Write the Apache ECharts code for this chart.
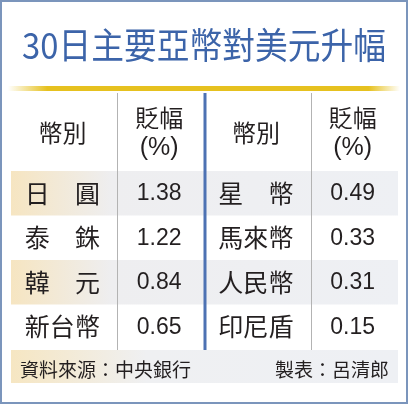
<!DOCTYPE html>
<html><head><meta charset="utf-8">
<script src="https://cdn.jsdelivr.net/npm/echarts@6/dist/echarts.min.js"></script>
<style>html,body{margin:0;padding:0;background:#fff}#c{width:408px;height:404px}</style>
</head><body><div id="c"></div>
<script>
const titleText = '30日主要亞幣對美元升幅';
const headers = ['幣別', '貶幅\n(%)', '幣別', '貶幅\n(%)'];
const leftNames = ['日　圓', '泰　銖', '韓　元', '新台幣'];
const leftValues = [1.38, 1.22, 0.84, 0.65];
const rightNames = ['星　幣', '馬來幣', '人民幣', '印尼盾'];
const rightValues = [0.49, 0.33, 0.31, 0.15];
const shadedRows = [0, 2];
const sourceText = '資料來源：中央銀行';
const authorText = '製表：呂清郎';

const CJK = '"Noto Sans CJK TC","Noto Sans CJK SC",sans-serif';
const NUM = '"Liberation Sans",Arial,sans-serif';
const TXT = '#231f20';

const cells = [];
leftNames.forEach((n, i) => {
  cells.push([0, i, n, 'name']);
  cells.push([1, i, leftValues[i].toFixed(2), 'num']);
  cells.push([2, i, rightNames[i], 'name']);
  cells.push([3, i, rightValues[i].toFixed(2), 'num']);
});

const chart = echarts.init(document.getElementById('c'), null, {renderer: 'canvas'});
chart.setOption({
  backgroundColor: '#fff',
  animation: false,
  title: [
    {text: sourceText, left: 20, top: 360, padding: 0,
     textStyle: {fontSize: 19, lineHeight: 19, fontWeight: 'normal', color: TXT, fontFamily: CJK}},
    {text: authorText, right: 19, top: 360, padding: 0,
     textStyle: {fontSize: 19, lineHeight: 19, fontWeight: 'normal', color: TXT, fontFamily: CJK}}
  ],
  grid: {left: 14, right: 7, top: 171, bottom: 55},
  xAxis: {
    type: 'category', position: 'top', data: headers.map((h, i) => String(i)),
    axisLine: {show: false}, axisTick: {show: false}, splitLine: {show: false},
    axisLabel: {
      margin: 38, verticalAlign: 'middle', interval: 0,
      formatter: (v, i) => {
        const parts = headers[i].split('\n');
        return parts.map((p, k) => k === 0 ? '{h|' + p + '}' : '{p|' + p + '}').join('\n');
      },
      rich: {
        h: {fontSize: 24, lineHeight: 31, fontFamily: CJK, color: TXT},
        p: {fontSize: 25, lineHeight: 31, fontFamily: NUM, color: TXT}
      }
    }
  },
  yAxis: {type: 'category', inverse: true, show: false, data: leftNames.map((n, i) => String(i))},
  series: [
    {
      type: 'custom', z: 1, silent: true,
      data: shadedRows.map(r => [0, r]),
      encode: {x: 0, y: 1},
      renderItem: (params, api) => {
        const p = api.coord([api.value(0), api.value(1)]);
        const s = api.size([1, 1]);
        return {
          type: 'rect',
          shape: {x: p[0] - s[0] / 2 - 3, y: p[1] - s[1] / 2, width: s[0] * 4, height: s[1]},
          style: {fill: {type: 'linear', x: 0, y: 0, x2: 1, y2: 0, colorStops: [
            {offset: 0, color: '#f6e5c1'}, {offset: 0.26, color: '#eeeef0'}, {offset: 1, color: '#eef0f4'}]}}
        };
      }
    },
    {
      type: 'custom', z: 3, silent: true,
      data: cells,
      encode: {x: 0, y: 1},
      renderItem: (params, api) => {
        const c = cells[params.dataIndex];
        const p = api.coord([api.value(0), api.value(1)]);
        const isName = c[3] === 'name';
        return {
          type: 'text', x: p[0], y: p[1] + (isName ? 0 : 0.5),
          style: {text: c[2], fontSize: isName ? 25 : 23, fontFamily: isName ? CJK : NUM,
                  fill: TXT, align: 'center', verticalAlign: 'middle'}
        };
      }
    }
  ],
  graphic: [
    {type: 'text', z: 10, silent: true, x: 204, y: 45, scaleX: 0.91, scaleY: 1,
     style: {text: titleText, fontSize: 36, fontFamily: CJK, fill: '#3c64a9', align: 'center', verticalAlign: 'middle'}},
    {type: 'rect', z: 0, silent: true, shape: {x: 11, y: 350, width: 387, height: 33},
     style: {fill: {type: 'linear', x: 0, y: 0, x2: 1, y2: 0, colorStops: [
       {offset: 0, color: '#f6e6c2'}, {offset: 0.35, color: '#eff0f2'}, {offset: 1, color: '#eef0f4'}]}}},
    {type: 'rect', z: 10, silent: true, shape: {x: 8, y: 86, width: 392, height: 5},
     style: {fill: {type: 'linear', x: 0, y: 0, x2: 1, y2: 0, colorStops: [
       {offset: 0, color: 'rgba(230,193,31,0)'}, {offset: 0.1, color: '#e6c11f'},
       {offset: 0.92, color: '#e6c11f'}, {offset: 1, color: 'rgba(230,193,31,0)'}]}}},
    {type: 'line', z: 10, silent: true, shape: {x1: 117.5, y1: 93, x2: 117.5, y2: 350}, style: {stroke: '#b3b3b3', lineWidth: 1}},
    {type: 'line', z: 10, silent: true, shape: {x1: 205, y1: 93, x2: 205, y2: 350}, style: {stroke: '#4d72b3', lineWidth: 3}},
    {type: 'line', z: 10, silent: true, shape: {x1: 311.5, y1: 93, x2: 311.5, y2: 350}, style: {stroke: '#b3b3b3', lineWidth: 1}},
    {type: 'rect', z: 10, silent: true, shape: {x: 1, y: 1, width: 406, height: 402},
     style: {fill: 'none', stroke: '#7b95bc', lineWidth: 2}}
  ]
});
</script></body></html>
